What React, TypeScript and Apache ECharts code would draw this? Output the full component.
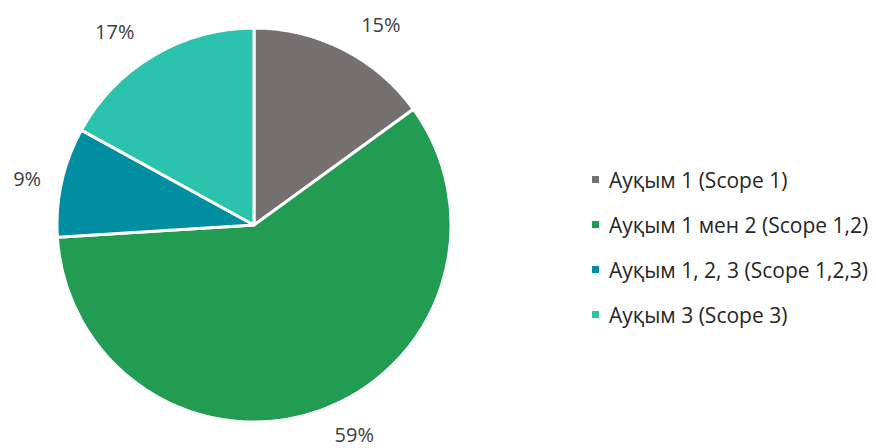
import React, { useEffect, useRef } from "react";
import * as echarts from "echarts";

const categories = [
  "Ауқым 1 (Scope 1)",
  "Ауқым 1 мен 2 (Scope 1,2)",
  "Ауқым 1, 2, 3 (Scope 1,2,3)",
  "Ауқым 3 (Scope 3)",
];
const values = [15, 59, 9, 17];
const colors = ["#767171", "#229C52", "#008EA0", "#2BC3AE"];
const labelLengths = [28, 26, 16, 28];

export default function App() {
  const ref = useRef<HTMLDivElement>(null);
  useEffect(() => {
    if (!ref.current) return;
    const chart = echarts.init(ref.current, null, { renderer: "svg" });
    chart.setOption({
      animation: false,
      backgroundColor: "#ffffff",
      legend: {
        orient: "vertical",
        left: 585,
        top: 164,
        itemWidth: 9,
        itemHeight: 9,
        itemGap: 24,
        icon: "rect",
        textStyle: {
          fontFamily: "Open Sans",
          fontSize: 21,
          color: "#262626",
          padding: [0, 0, 0, 4],
        },
        data: categories,
      },
      series: [
        {
          type: "pie",
          center: [254, 225],
          radius: [0, 197],
          startAngle: 90,
          clockwise: true,
          avoidLabelOverlap: false,
          itemStyle: { borderColor: "#ffffff", borderWidth: 3 },
          label: {
            show: true,
            position: "outside",
            formatter: "{c}%",
            fontFamily: "Open Sans",
            fontSize: 20,
            color: "#404040",
          },
          labelLine: { show: false, length: 28, length2: 0 },
          data: categories.map((name, i) => ({
            name,
            value: values[i],
            itemStyle: { color: colors[i] },
            labelLine: { show: false, length: labelLengths[i], length2: 0 },
          })),
        },
      ],
    });
    return () => chart.dispose();
  }, []);
  return (
    <div
      ref={ref}
      style={{ position: "fixed", left: 0, top: 0, width: 876, height: 448 }}
    />
  );
}
